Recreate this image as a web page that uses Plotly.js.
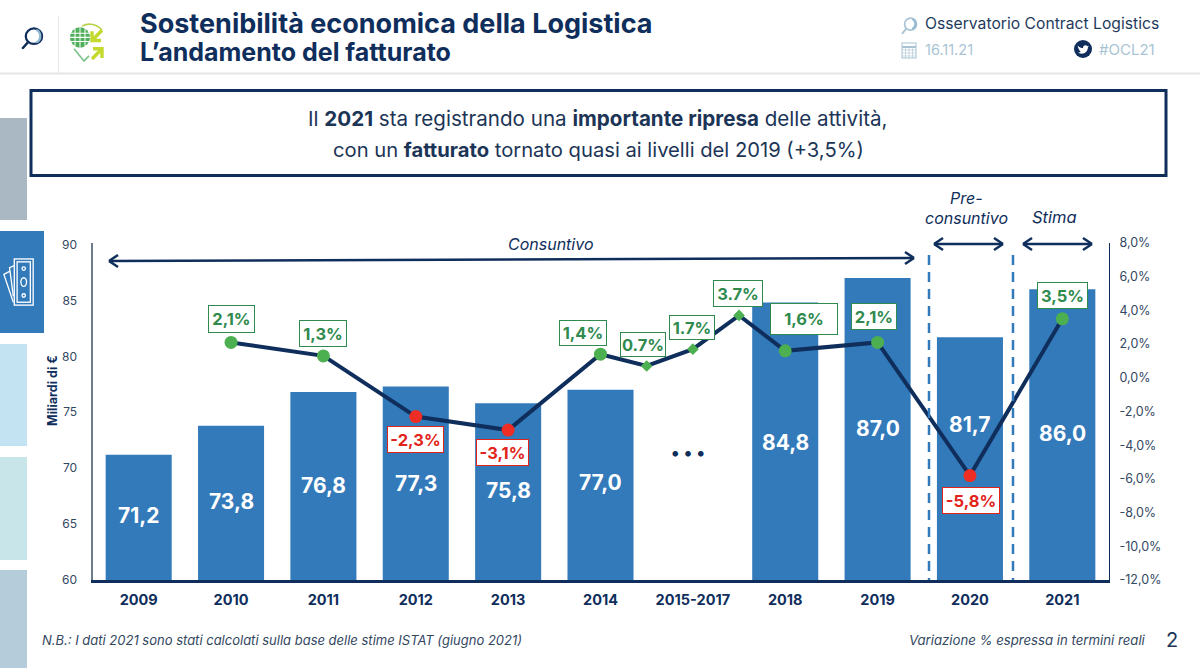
<!DOCTYPE html>
<html>
<head>
<meta charset="utf-8">
<title>Sostenibilità economica della Logistica</title>
<script src="https://cdn.plot.ly/plotly-3.0.1.min.js"></script>
<style>
  html, body { margin: 0; padding: 0; background: #fff; overflow: hidden; }
</style>
</head>
<body>
<div id="chart" style="width:1200px;height:668px"></div>
<script>
// Chart data
const categories = ['2009', '2010', '2011', '2012', '2013', '2014', '2015-2017', '2018', '2019', '2020', '2021'];
const revenue = [71.2, 73.8, 76.8, 77.3, 75.8, 77.0, null, 84.8, 87.0, 81.7, 86.0];
const revenueLabels = ['71,2', '73,8', '76,8', '77,3', '75,8', '77,0', '', '84,8', '87,0', '81,7', '86,0'];
const lineYears = [2010, 2011, 2012, 2013, 2014, 2015, 2016, 2017, 2018, 2019, 2020, 2021];
const growth = [2.1, 1.3, -2.3, -3.1, 1.4, 0.7, 1.7, 3.7, 1.6, 2.1, -5.8, 3.5];
const growthLabels = ['2,1%', '1,3%', '-2,3%', '-3,1%', '1,4%', '0.7%', '1.7%', '3.7%', '1,6%', '2,1%', '-5,8%', '3,5%'];
const leftTicks = [60, 65, 70, 75, 80, 85, 90];
const rightTicks = [8, 6, 4, 2, 0, -2, -4, -6, -8, -10, -12];
const rightTickLabels = ['8,0%', '6,0%', '4,0%', '2,0%', '0,0%', '-2,0%', '-4,0%', '-6,0%', '-8,0%', '-10,0%', '-12,0%'];

const W = 1200, H = 668;
const NAVY = '#0f2e5c', BLUE = '#337abb', GREEN = '#2f8a4e', RED = '#e2231a';
const FONT = 'Inter, "Open Sans", sans-serif';

// pixel position -> paper fraction
const px = x => x / W;
const py = y => 1 - y / H;

// the three years of the 2015-2017 slot share one category
function yearToSlot(year) {
  if (year <= 2014) return year - 2009;
  if (year <= 2017) return 5.5 + (year - 2015) * 0.5;
  return year - 2011;
}

function text(x, y, str, size, color, opts) {
  const o = opts || {};
  // annotation boxes carry about 2px of padding on each side
  const pad = o.xanchor === 'center' ? 0 : (o.xanchor === 'right' ? 2 : -2);
  return Object.assign({
    xref: 'paper', yref: 'paper', x: px(x + pad), y: py(y), text: str, showarrow: false,
    xanchor: 'left', yanchor: 'middle',
    font: { family: FONT, size: size, color: color }
  }, o);
}

function rect(x0, y0, x1, y1, fill, line) {
  return {
    type: 'rect', xref: 'paper', yref: 'paper', layer: 'below',
    x0: px(x0), x1: px(x1), y0: py(y0), y1: py(y1),
    fillcolor: fill, line: line || { width: 0 }
  };
}

function seg(x0, y0, x1, y1, color, width, dash) {
  return {
    type: 'line', xref: 'paper', yref: 'paper',
    x0: px(x0), x1: px(x1), y0: py(y0), y1: py(y1),
    line: { color: color, width: width, dash: dash || 'solid' }
  };
}

// Double headed arrow with open heads
function arrow(x0, y0, x1, y1) {
  const h = 9, v = 6;
  return [
    seg(x0, y0, x1, y1, NAVY, 2.5),
    seg(x0, y0, x0 + h, y0 - v, NAVY, 2.5),
    seg(x0, y0, x0 + h, y0 + v, NAVY, 2.5),
    seg(x1, y1, x1 - h, y1 - v, NAVY, 2.5),
    seg(x1, y1, x1 - h, y1 + v, NAVY, 2.5)
  ];
}

function icon(svg, x, y, w, h) {
  return {
    source: 'data:image/svg+xml,' + encodeURIComponent(svg),
    xref: 'paper', yref: 'paper', x: px(x), y: py(y), sizex: w / W, sizey: h / H,
    xanchor: 'left', yanchor: 'top', sizing: 'stretch', layer: 'above'
  };
}

const lensSvg = c => `<svg xmlns="http://www.w3.org/2000/svg" viewBox="0 0 24 24"><circle cx="13.5" cy="10" r="8.5" fill="none" stroke="${c}" stroke-width="2.4"/><path d="M7 17 L2 23" stroke="${c}" stroke-width="2.6" stroke-linecap="round"/><path d="M16 3 A8 8 0 0 1 16 17" fill="none" stroke="#8fb8d0" stroke-width="2.4"/></svg>`;

const logoSvg = `<svg xmlns="http://www.w3.org/2000/svg" viewBox="0 0 36 40">
<path d="M13 4 A16 16 0 0 1 33 8" fill="none" stroke="#b9d44a" stroke-width="1.6"/>
<path d="M5 26 L15 38 L20 33" fill="none" stroke="#7cc28a" stroke-width="1.6"/>
<circle cx="11" cy="15" r="10" fill="#4fae5a"/>
<g stroke="#fff" stroke-width="1" fill="none"><path d="M1 11 H21 M1 15 H21 M1 19 H21 M11 5 V25 M6 6.5 V23.5 M16 6.5 V23.5"/></g>
<g stroke="#c4d92e" stroke-width="3.4" fill="none"><path d="M33 8 L23 18 M23 9 V18 H32"/><path d="M23 36 L33 26 M33 35 V26 H24"/></g>
</svg>`;

const moneySvg = `<svg xmlns="http://www.w3.org/2000/svg" viewBox="0 0 36 52" fill="none" stroke="#fff" stroke-width="1.4">
<rect x="13" y="1" width="20" height="48" fill="#337abb"/><rect x="16" y="4" width="14" height="42"/>
<circle cx="23" cy="11" r="1.8"/><ellipse cx="23" cy="25" rx="3" ry="4.5"/><circle cx="23" cy="39" r="1.8"/>
<path d="M13 8 L8 10 L12 40 M8 14 L2 17 L12 46"/></svg>`;

const calendarSvg = `<svg xmlns="http://www.w3.org/2000/svg" viewBox="0 0 16 18" fill="none" stroke="#a9c4d4" stroke-width="1"><rect x="1" y="2" width="14" height="15"/><path d="M1 6 H15" stroke-width="2"/><path d="M1 9 H15 M1 12 H15 M1 15 H15 M4.5 6 V17 M8 6 V17 M11.5 6 V17" stroke-width=".6"/></svg>`;

const twitterSvg = `<svg xmlns="http://www.w3.org/2000/svg" viewBox="0 0 20 20"><circle cx="10" cy="10" r="10" fill="${NAVY}"/><path d="M4 6 C6 8 8 9 10 9 C10 6 13 5 15 7 L16.5 6.5 L15.5 8 C15.5 12 12 16 7 15 C6 15 5 14.5 4.5 14 C6 14 7 13.5 7.5 13 C6 12 4.5 9 4 6 Z" fill="#fff"/></svg>`;

// Bars
const barTrace = {
  type: 'bar', x: categories.map((c, i) => i), y: revenue, width: 0.715,
  marker: { color: BLUE, line: { width: 0 } }, hoverinfo: 'skip', xaxis: 'x', yaxis: 'y'
};

// Yearly change line, small markers for the 2015-2017 years
const lineTrace = {
  type: 'scatter', mode: 'lines+markers',
  x: lineYears.map(yearToSlot), y: growth, xaxis: 'x', yaxis: 'y2', hoverinfo: 'skip',
  line: { color: NAVY, width: 4 },
  marker: {
    opacity: 1,
    size: lineYears.map(y => (y >= 2015 && y <= 2017) ? 9 : 13),
    symbol: lineYears.map(y => (y >= 2015 && y <= 2017) ? 'diamond' : 'circle'),
    color: growth.map(v => v < 0 ? '#ee2e24' : '#4caf50'),
    line: { width: 0 }
  }
};

// offsets of the labels from their bar top / line point, in pixels
const barLabelDrop = [61, 76, 93, 97, 87, 93, 0, 140, 150, 87, 144];
const growthShiftX = [0, 0, 0, -6, -18, -4, -1, -1, 19, -4, 1, 0];
const growthShiftY = [23, 22, -23, -22, 21, 22, 22, 22, 32, 26, -25, 23];
const growthBoxW = [45, 46, 55, 51, 46, 44, 44, 48, 66, 44, 56, 49];
const growthBoxH = [26, 25, 25, 25, 24, 23, 23, 25, 30, 25, 25, 25];

const barAnnotations = revenueLabels.map((t, i) => t === '' ? null : {
  xref: 'x', yref: 'y', x: i, y: revenue[i], yshift: -barLabelDrop[i], showarrow: false,
  text: '<b>' + t + '</b>', font: { family: FONT, size: 21, color: '#fff' }
}).filter(Boolean);

const growthAnnotations = growthLabels.map((t, i) => {
  const c = growth[i] < 0 ? RED : GREEN;
  return {
    xref: 'x', yref: 'y2', x: yearToSlot(lineYears[i]), y: growth[i],
    xshift: growthShiftX[i], yshift: growthShiftY[i], showarrow: false,
    text: '<b>' + t + '</b>', width: growthBoxW[i], height: growthBoxH[i], align: 'center', valign: 'middle',
    bgcolor: '#fff', bordercolor: c, borderwidth: 1, borderpad: 0,
    font: { family: FONT, size: 16.5, color: c }
  };
});

const annotations = [
  // Header
  text(140, 24, '<b>Sostenibilità economica della Logistica</b>', 27, NAVY),
  text(140, 52, '<b>L’andamento del fatturato</b>', 25, NAVY),
  text(925, 24, 'Osservatorio Contract Logistics', 15.7, '#1f3b5c'),
  text(925, 49, '16.11.21', 14.5, '#a9c4d4'),
  text(1099, 49, '#OCL21', 15, '#a9c4d4'),
  // Message box
  text(598, 119, 'Il <b>2021</b> sta registrando una <b>importante ripresa</b> delle attività,', 20.6, '#1c3557', { xanchor: 'center' }),
  text(598, 149, 'con un <b>fatturato</b> tornato quasi ai livelli del 2019 (+3,5%)', 20.2, '#1c3557', { xanchor: 'center' }),
  // Period labels
  text(551, 244, '<i>Consuntivo</i>', 16, NAVY, { xanchor: 'center' }),
  text(966, 198, '<i>Pre-</i>', 16, NAVY, { xanchor: 'center' }),
  text(966, 218, '<i>consuntivo</i>', 16, NAVY, { xanchor: 'center' }),
  text(1054, 217, '<i>Stima</i>', 16.5, NAVY, { xanchor: 'center' }),
  // Axis title and gap marker
  text(52, 391, '<b>Miliardi di €</b>', 12.5, NAVY, { xanchor: 'center', textangle: -90 }),
  text(688, 452, '<b>• • •</b>', 18, NAVY, { xanchor: 'center' }),
  // Footer
  text(42, 640, '<i>N.B.: I dati 2021 sono stati calcolati sulla base delle stime ISTAT (giugno 2021)</i>', 13, '#33475f'),
  text(1146, 640, '<i>Variazione % espressa in termini reali</i>', 13.2, '#33475f', { xanchor: 'right' }),
  text(1166, 640, '2', 20, '#1c3557')
].concat(barAnnotations, growthAnnotations);

const shapes = [
  // Side tabs
  rect(0, 118, 27, 220, '#aab8c4'),
  rect(0, 231, 44, 333, BLUE),
  rect(0, 344, 27, 446, '#c3e3f3'),
  rect(0, 457, 27, 560, '#c8e5ea'),
  rect(0, 570, 27, 668, '#b5ccdb'),
  // Header rules
  seg(0, 73.5, W, 73.5, '#e6e6e6', 2),
  seg(58.5, 16, 58.5, 73, '#e6e6e6', 1),
  // Message box
  rect(31, 90.5, 1166, 175.5, '#fff', { color: NAVY, width: 3 }),
  // Period separators
  seg(929, 255, 929, 580, BLUE, 2.5, '10px,7px'),
  seg(1013, 255, 1013, 580, BLUE, 2.5, '10px,7px')
].concat(
  arrow(109, 261, 914, 258),
  arrow(934, 244, 1003, 244),
  arrow(1023, 244, 1092, 244)
);

const layout = {
  width: W, height: H,
  margin: { l: 0, r: 0, t: 0, b: 0 },
  paper_bgcolor: '#fff', plot_bgcolor: 'rgba(0,0,0,0)',
  showlegend: false, hovermode: false,
  font: { family: FONT, color: NAVY },
  xaxis: {
    domain: [px(92.5), px(1108.5)], range: [-0.5, 10.5], anchor: 'y',
    tickmode: 'array', tickvals: categories.map((c, i) => i), ticktext: categories.map(c => '<b>' + c + '</b>'),
    ticks: '', showgrid: false, zeroline: false,
    showline: true, linecolor: NAVY, linewidth: 2.5,
    tickfont: { family: FONT, size: 14.5, color: NAVY }, ticklabelstandoff: 5
  },
  yaxis: {
    domain: [py(580), py(243)], range: [60, 90.13], anchor: 'x',
    tickmode: 'array', tickvals: leftTicks, ticks: '', showgrid: false, zeroline: false,
    showline: true, linecolor: '#6d7c8c', linewidth: 2,
    tickfont: { family: FONT, size: 12, color: '#33475f' }, ticklabelstandoff: 11
  },
  yaxis2: {
    domain: [py(580), py(243)], range: [-12, 8], overlaying: 'y', side: 'right', anchor: 'x',
    tickmode: 'array', tickvals: rightTicks, ticktext: rightTickLabels,
    ticks: '', showgrid: false, zeroline: false,
    showline: true, linecolor: NAVY, linewidth: 1.5,
    tickfont: { family: FONT, size: 12.5, color: '#33475f' }, ticklabelstandoff: 7
  },
  shapes: shapes,
  annotations: annotations,
  images: [
    icon(lensSvg('#0f2e5c'), 21, 27, 23, 22),
    icon(logoSvg, 69, 22, 36, 41),
    icon(moneySvg, 2, 258, 34, 50),
    icon(lensSvg('#a9c4d4'), 901, 17, 17, 17),
    icon(calendarSvg, 901, 41, 16, 18),
    icon(twitterSvg, 1074, 40, 18, 18)
  ]
};

Plotly.newPlot('chart', [barTrace, lineTrace], layout, { displayModeBar: false, staticPlot: true });
</script>
</body>
</html>
